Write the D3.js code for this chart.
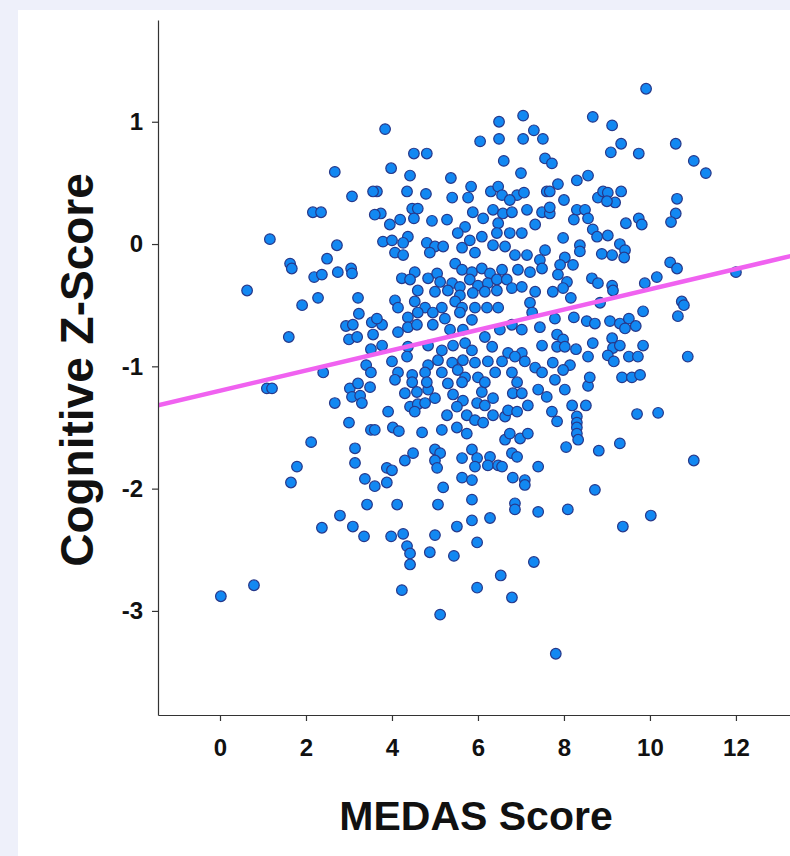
<!DOCTYPE html>
<html>
<head>
<meta charset="utf-8">
<script src="https://cdn.jsdelivr.net/npm/d3@7"></script>
<style>
  html, body { margin: 0; padding: 0; background: #eef0fa; }
  svg { display: block; }
  text { font-family: "Liberation Sans", Arial, Helvetica, sans-serif; font-weight: bold; }
</style>
</head>
<body>
<svg id="chart" width="790" height="856"></svg>
<script>
// ---- Data ----
const medasScore = [
6.49,7.05,7.30,7.51,6.05,6.49,7.05,6.60,7.00,7.56,3.84,4.51,4.81,3.98,4.42,5.37,5.84,3.65,4.35,4.79,
5.40,5.77,6.30,6.47,6.56,6.91,7.07,6.74,7.60,3.74,4.19,4.47,4.60,4.51,4.93,5.28,5.88,6.12,6.35,6.58,
6.79,7.14,7.49,3.95,5.70,6.47,7.33,
9.91,8.67,9.12,9.33,9.09,9.74,10.60,11.02,11.30,7.72,8.56,8.30,7.86,7.67,8.00,9.33,8.79,8.91,9.02,
9.19,9.00,10.63,10.60,10.49,8.30,8.49,8.23,8.56,9.44,9.74,9.81,7.67,7.67,8.67,
2.67,3.07,3.56,2.16,2.35,3.60,
1.16,2.72,1.63,1.67,2.49,2.19,2.37,2.74,3.05,3.07,0.63,1.91,2.28,3.21,3.23,2.93,3.09,3.53,3.56,3.00,
3.19,1.60,3.51,3.40,3.51,2.40,
1.09,1.21,3.02,3.21,3.49,3.07,3.26,3.30,2.67,3.00,3.51,2.12,3.14,3.14,1.79,1.65,3.37,3.60,3.42,2.79,
2.37,3.09,3.35,0.79,0.02,
3.98,4.26,5.00,5.98,4.35,4.42,4.88,5.44,4.42,7.30,6.53,4.23,5.98,6.79,5.12,7.81,
7.79,8.02,8.56,7.72,7.84,8.19,8.51,8.30,8.30,8.30,8.30,8.33,8.05,8.81,9.30,9.70,10.19,11.02,8.72,8.09,
10.02,9.37,
7.98,8.37,8.37,8.77,9.02,9.30,9.42,8.88,9.12,9.40,8.02,8.21,7.91,7.86,8.07,8.65,8.79,9.12,9.14,7.74,
7.98,8.16,8.84,9.88,10.16,10.47,10.63,10.74,10.79,10.65,9.84,7.79,8.23,8.53,8.72,9.07,9.30,9.51,9.42,9.67,
7.84,7.98,8.67,9.12,7.84,8.02,8.28,9.14,9.30,9.84,8.56,9.02,9.51,9.72,9.16,10.88,8.14,7.98,8.60,9.35,
9.58,9.77,7.74,
3.79,4.00,4.37,4.26,4.07,4.26,4.81,5.00,5.19,4.88,5.53,5.81,5.63,5.93,6.09,6.35,6.44,6.74,7.02,6.63,
6.86,7.14,7.44,7.56,5.47,5.63,5.86,6.09,6.28,6.56,6.93,7.21,7.49,4.53,4.23,4.42,4.84,5.05,5.12,5.40,
5.58,5.81,6.00,6.23,6.44,6.67,6.79,7.02,7.33,4.60,5.00,5.30,5.58,5.88,6.16,6.44,4.07,4.14,4.53,4.77,
5.16,5.47,5.63,5.93,6.21,6.47,7.21,7.26,4.37,4.60,4.95,5.23,5.58,5.86,3.77,3.65,4.14,4.37,4.58,4.95,
5.35,5.65,6.16,6.51,6.79,7.02,7.44,7.49,3.77,4.37,4.35,4.00,4.84,5.16,5.42,5.70,5.86,6.33,6.70,7.02,
4.84,5.07,5.40,5.65,5.93,6.23,6.56,6.86,7.09,7.33,4.14,4.47,4.77,5.16,5.53,5.70,6.00,6.40,6.79,7.49,
3.91,3.60,4.02,4.16,4.30,4.58,4.84,4.42,4.60,4.53,4.77,5.00,4.07,4.47,4.81,5.30,5.63,5.42,5.65,5.51,
5.28,5.74,5.93,6.12,5.98,6.16,6.35,6.35,6.09,6.16,6.63,6.70,6.91,6.81,7.02,6.91,7.16,7.40,7.60,4.70,
5.16,5.51,5.74,6.63,6.74,6.98,7.16,4.30,4.49,5.00,5.12,5.00,5.05,5.63,5.86,5.98,5.93,6.28,6.23,6.47,
6.56,6.79,6.91,7.40,3.88,4.00,3.88,5.63,5.86,6.81,7.09,7.09,5.19,4.12,5.07,5.86,6.86,6.86,7.40,5.51,
5.86,6.28,12.00
];
const cognitiveZ = [
1.00,1.05,0.93,0.86,0.84,0.86,0.86,0.68,0.58,0.70,0.94,0.74,0.74,0.62,0.56,0.54,0.47,0.43,0.43,0.41,
0.38,0.38,0.43,0.47,0.40,0.40,0.42,0.36,0.43,0.25,0.20,0.29,0.29,0.21,0.19,0.20,0.26,0.21,0.28,0.25,
0.26,0.28,0.26,0.16,0.14,0.17,0.16,
1.27,1.04,0.97,0.82,0.75,0.74,0.82,0.68,0.58,0.66,0.56,0.52,0.49,0.43,0.36,0.43,0.38,0.43,0.42,
0.34,0.35,0.37,0.25,0.18,0.28,0.28,0.20,0.21,0.17,0.21,0.16,0.25,0.30,0.12,
0.59,0.39,0.43,0.26,0.26,0.24,
0.04,-0.01,-0.16,-0.20,-0.12,-0.27,-0.25,-0.23,-0.20,-0.24,-0.38,-0.50,-0.44,-0.44,-0.57,-0.67,-0.66,-0.64,-0.74,-0.78,
-0.76,-0.76,-0.86,-0.99,-1.05,-1.05,
-1.18,-1.18,-1.18,-1.14,-1.17,-1.25,-1.24,-1.30,-1.30,-1.46,-1.52,-1.62,-1.67,-1.79,-1.82,-1.95,-1.92,-1.98,-2.13,-2.22,
-2.32,-2.31,-2.39,-2.79,-2.88,
-2.39,-2.37,-2.38,-2.44,-2.47,-2.53,-2.52,-2.55,-2.62,-2.60,-2.71,-2.83,-2.81,-2.89,-3.03,-3.35,
-1.11,-1.19,-1.16,-1.37,-1.45,-1.32,-1.32,-1.41,-1.46,-1.50,-1.55,-1.60,-1.66,-1.69,-1.63,-1.39,-1.38,-1.77,-2.01,-2.17,
-2.22,-2.31,
0.05,-0.01,-0.06,0.06,0.07,0.00,-0.05,-0.08,-0.09,-0.11,-0.11,-0.17,-0.17,-0.25,-0.31,-0.28,-0.32,-0.34,-0.38,-0.39,
-0.36,-0.44,-0.48,-0.32,-0.27,-0.15,-0.20,-0.47,-0.50,-0.59,-0.55,-0.61,-0.60,-0.63,-0.65,-0.63,-0.65,-0.61,-0.69,-0.67,
-0.74,-0.78,-0.81,-0.77,-0.84,-0.84,-0.86,-0.85,-0.83,-0.83,-0.92,-0.91,-0.92,-0.92,-0.96,-0.92,-0.99,-1.03,-1.09,-1.09,
-1.09,-1.07,-0.97,
0.02,0.03,0.06,0.01,-0.07,-0.09,0.01,-0.02,-0.02,-0.07,0.09,0.03,-0.03,-0.07,0.06,-0.01,0.09,0.09,0.09,-0.02,
-0.09,-0.09,-0.13,-0.05,-0.16,-0.21,-0.23,-0.20,-0.24,-0.21,-0.21,-0.23,-0.20,-0.23,-0.28,-0.29,-0.28,-0.24,-0.31,-0.32,
-0.35,-0.29,-0.34,-0.32,-0.29,-0.29,-0.36,-0.35,-0.39,-0.38,-0.39,-0.38,-0.42,-0.40,-0.39,-0.38,-0.46,-0.52,-0.47,-0.52,
-0.52,-0.47,-0.52,-0.52,-0.52,-0.52,-0.48,-0.56,-0.60,-0.56,-0.56,-0.61,-0.56,-0.62,-0.66,-0.61,-0.72,-0.68,-0.66,-0.66,
-0.70,-0.70,-0.76,-0.70,-0.66,-0.70,-0.68,-0.83,-0.83,-0.84,-0.92,-0.96,-0.83,-0.87,-0.83,-0.81,-0.87,-0.84,-0.89,-0.89,
-0.99,-0.95,-0.97,-0.95,-0.97,-0.96,-0.96,-0.92,-0.96,-1.01,-1.05,-1.07,-1.05,-1.05,-1.03,-1.09,-1.09,-1.05,-1.05,-1.05,
-1.37,-1.52,-1.50,-1.53,-1.22,-1.21,-1.19,-1.33,-1.31,-1.37,-1.30,-1.26,-1.11,-1.13,-1.13,-1.14,-1.13,-1.23,-1.28,-1.33,
-1.40,-1.40,-1.44,-1.46,-1.30,-1.32,-1.26,-1.40,-1.21,-1.13,-1.41,-1.36,-1.37,-1.22,-1.22,-1.13,-1.32,-1.19,-1.25,-1.54,
-1.52,-1.50,-1.55,-1.60,-1.55,-1.59,-1.55,-1.77,-1.71,-1.68,-1.71,-1.77,-1.83,-1.75,-1.68,-1.75,-1.82,-1.74,-1.81,-1.81,
-1.82,-1.71,-1.74,-1.82,-1.83,-1.85,-1.95,-1.91,-1.93,-1.91,-1.93,-1.97,-1.99,-2.13,-2.13,-2.09,-2.12,-2.17,-2.19,-2.31,
-2.26,-2.24,-0.23
];
const xTickValues = [0, 2, 4, 6, 8, 10, 12];
const yTickValues = [-3, -2, -1, 0, 1];
const fitIntercept = -1.20;   // linear fit line
const fitSlope = 0.083;
const xTitle = "MEDAS Score";
const yTitle = "Cognitive Z-Score";

// ---- Layout ----
const W = 790, H = 856;
const svg = d3.select("#chart");

svg.append("rect").attr("x", 18).attr("y", 10).attr("width", W - 18).attr("height", H - 10).attr("fill", "#ffffff");

const x = d3.scaleLinear().domain([-1.442, 13.49]).range([158, 800]);
const y = d3.scaleLinear().domain([-3.851, 1.832]).range([715, 20]);

svg.append("defs").append("clipPath").attr("id", "plotclip")
  .append("rect").attr("x", 158).attr("y", 20).attr("width", 800 - 158).attr("height", 695);

// points
const pts = medasScore.map((m, i) => ({ m: m, z: cognitiveZ[i] }));
svg.append("g").attr("clip-path", "url(#plotclip)")
  .selectAll("circle").data(pts).join("circle")
  .attr("cx", d => x(d.m)).attr("cy", d => y(d.z)).attr("r", 5.3)
  .attr("fill", "#1288f2").attr("stroke", "#26388a").attr("stroke-width", 1.2);

// fit line
const xd = x.domain();
svg.append("g").attr("clip-path", "url(#plotclip)")
  .append("line")
  .attr("x1", x(xd[0])).attr("y1", y(fitIntercept + fitSlope * xd[0]))
  .attr("x2", x(xd[1])).attr("y2", y(fitIntercept + fitSlope * xd[1]))
  .attr("stroke", "#f062f0").attr("stroke-width", 4.5).attr("stroke-linecap", "butt");

// axes
const yAxis = svg.append("g").attr("transform", "translate(158,0)")
  .call(d3.axisLeft(y).tickValues(yTickValues).tickFormat(d3.format("d")).tickSize(6).tickSizeOuter(0).tickPadding(9));
const xAxis = svg.append("g").attr("transform", "translate(0,715)")
  .call(d3.axisBottom(x).tickValues(xTickValues).tickFormat(d3.format("d")).tickSize(6).tickSizeOuter(0).tickPadding(18));

[yAxis, xAxis].forEach(g => {
  g.attr("font-size", null).attr("font-family", null);
  g.select(".domain").attr("stroke", "#333").attr("stroke-width", 1.2);
  g.selectAll(".tick line").attr("stroke", "#333").attr("stroke-width", 1.2);
  g.selectAll(".tick text").attr("fill", "#111").style("font-size", "24px")
    .style("font-family", "'Liberation Sans', Arial, sans-serif").style("font-weight", "bold");
});
// minus sign as hyphen like reference
yAxis.selectAll(".tick text").text(d => String(d).replace("\u2212", "-"));

// titles
svg.append("text").attr("transform", "translate(93,370) rotate(-90)")
  .attr("text-anchor", "middle").attr("fill", "#111").style("font-size", "46px").text(yTitle);
svg.append("text").attr("x", 476).attr("y", 830)
  .attr("text-anchor", "middle").attr("fill", "#111").style("font-size", "41px").text(xTitle);
</script>
</body>
</html>
